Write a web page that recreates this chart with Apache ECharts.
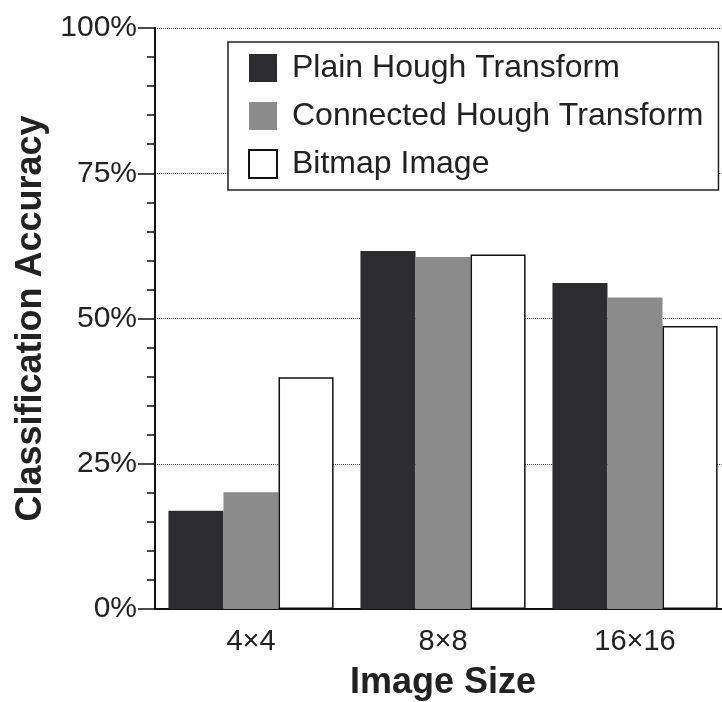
<!DOCTYPE html>
<html><head><meta charset="utf-8">
<script src="https://cdn.jsdelivr.net/npm/echarts@6/dist/echarts.min.js"></script>
<style>html,body{margin:0;padding:0;background:#fff;}#c{width:722px;height:702px;}</style>
</head><body><div id="c"></div>
<script>
const categories = ['4×4', '8×8', '16×16'];
const plainHough = [16.9, 61.6, 56.1];
const connectedHough = [20.1, 60.6, 53.6];
const bitmapImage = [39.9, 61.0, 48.7];
const seriesNames = ['Plain Hough Transform', 'Connected Hough Transform', 'Bitmap Image'];

const FONT = 'Liberation Sans, Arial, Helvetica, sans-serif';
const chart = echarts.init(document.getElementById('c'));
chart.setOption({
  animation: false,
  backgroundColor: '#fff',
  grid: { left: 155, top: 28, width: 576, height: 581, outerBoundsMode: 'none', containLabel: false },
  legend: {
    left: 228, top: 42,
    orient: 'vertical',
    itemWidth: 28, itemHeight: 28, itemGap: 16,
    padding: [10, 15, 10, 20],
    borderColor: '#222', borderWidth: 1.5,
    backgroundColor: '#fff',
    icon: 'rect',
    textStyle: { fontFamily: FONT, fontSize: 32, color: '#222', padding: [0, 0, 0, 10] },
    data: seriesNames
  },
  xAxis: {
    type: 'category',
    data: categories,
    axisLine: { lineStyle: { color: '#111', width: 2 } },
    axisTick: { show: false },
    axisLabel: { fontFamily: FONT, fontSize: 29, color: '#222', margin: 18 },
    name: 'Image Size',
    nameLocation: 'middle',
    nameGap: 56,
    nameTextStyle: { fontFamily: FONT, fontSize: 36, fontWeight: 'bold', color: '#222' }
  },
  yAxis: {
    type: 'value',
    min: 0, max: 100, interval: 25,
    axisLine: { show: true, lineStyle: { color: '#111', width: 2 } },
    axisTick: { show: true, length: 17, lineStyle: { color: '#111', width: 1.5 } },
    minorTick: { show: true, splitNumber: 5, length: 8, lineStyle: { color: '#111', width: 1.5 } },
    axisLabel: { fontFamily: FONT, fontSize: 30, color: '#222', margin: 18, formatter: '{value}%' },
    splitLine: { show: true, lineStyle: { type: 'dotted', color: '#555', width: 1 } },
    name: 'Classification Accuracy',
    nameLocation: 'middle',
    nameGap: 103,
    nameTextStyle: { fontFamily: FONT, fontSize: 36, fontWeight: 'bold', color: '#222' }
  },
  series: [
    { name: seriesNames[0], type: 'bar', data: plainHough, barGap: '0%', barCategoryGap: '14%',
      itemStyle: { color: '#2c2c31' } },
    { name: seriesNames[1], type: 'bar', data: connectedHough, barGap: '0%', barCategoryGap: '14%',
      itemStyle: { color: '#8b8b8b' } },
    { name: seriesNames[2], type: 'bar', data: bitmapImage, barGap: '0%', barCategoryGap: '14%',
      itemStyle: { color: '#fff', borderColor: '#111', borderWidth: 1.5 } }
  ]
});
</script></body></html>
